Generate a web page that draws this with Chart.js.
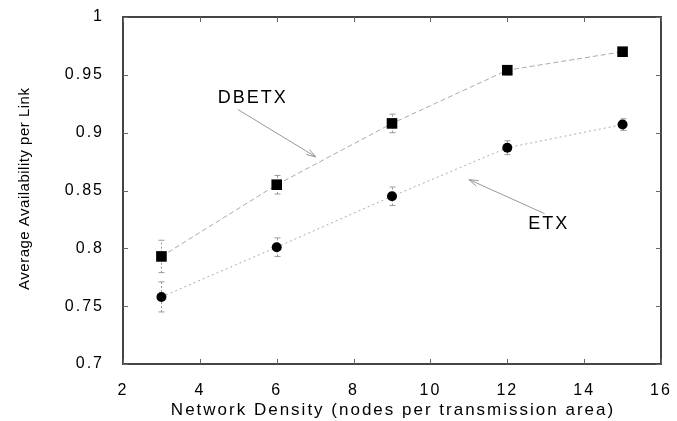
<!DOCTYPE html>
<html>
<head>
<meta charset="utf-8">
<script src="https://cdn.jsdelivr.net/npm/chart.js@4.4.1/dist/chart.umd.min.js"></script>
<style>
  html, body { margin: 0; padding: 0; background: #fff; }
  #wrap { width: 677px; height: 421px; }
</style>
</head>
<body>
<div id="wrap"><canvas id="c" width="677" height="421"></canvas></div>
<script>
// ---- data ----
const densities = [3, 6, 9, 12, 15];
const dbetxValues = [0.793, 0.855, 0.908, 0.954, 0.970];
const dbetxErrors = [0.014, 0.008, 0.008, 0.004, 0.003];
const etxValues = [0.758, 0.801, 0.845, 0.887, 0.907];
const etxErrors = [0.013, 0.008, 0.008, 0.006, 0.005];
const xTickLabels = ['2', '4', '6', '8', '10', '12', '14', '16'];
const yTickLabels = ['0.7', '0.75', '0.8', '0.85', '0.9', '0.95', '1'];
const xTitle = 'Network Density (nodes per transmission area)';
const yTitle = 'Average Availability per Link';
// annotations: label, text position (x,y), arrow from (x,y) to (x,y) in data units
const annLabels = ['DBETX', 'ETX'];
const annText = [[5.35, 0.930], [13.05, 0.8207]];
const annArrowFrom = [[4.99, 0.920], [12.97, 0.830]];
const annArrowTo = [[7.02, 0.879], [11.0, 0.8595]];

const FONT = "'Liberation Sans', Arial, Helvetica, sans-serif";
const AXIS = '#444';

function spacedText(ctx, text, x, y, spacing, align) {
  ctx.save();
  ctx.letterSpacing = spacing + 'px';
  const w = ctx.measureText(text).width - spacing;
  let sx = x;
  if (align === 'center') sx = x - w / 2;
  else if (align === 'right') sx = x - w;
  ctx.textAlign = 'left';
  ctx.fillText(text, sx, y);
  ctx.restore();
}

const frameAndExtras = {
  id: 'frameAndExtras',
  beforeDraw(chart) {
    chart.ctx.letterSpacing = '2px';
  },
  beforeDatasetsDraw(chart) {
    const ctx = chart.ctx;
    const xs = chart.scales.x, ys = chart.scales.y;
    ctx.save();
    ctx.strokeStyle = '#999';
    ctx.lineWidth = 1;
    [[dbetxValues, dbetxErrors], [etxValues, etxErrors]].forEach(([vals, errs]) => {
      vals.forEach((v, i) => {
        const px = Math.round(xs.getPixelForValue(densities[i])) + 0.5;
        const y1 = ys.getPixelForValue(v - errs[i]);
        const y2 = ys.getPixelForValue(v + errs[i]);
        ctx.setLineDash([2, 2]);
        ctx.beginPath(); ctx.moveTo(px, y1); ctx.lineTo(px, y2); ctx.stroke();
        ctx.setLineDash([]);
        ctx.beginPath();
        ctx.moveTo(px - 3, y1); ctx.lineTo(px + 3, y1);
        ctx.moveTo(px - 3, y2); ctx.lineTo(px + 3, y2);
        ctx.stroke();
      });
    });
    ctx.restore();
  },
  afterDraw(chart) {
    const ctx = chart.ctx, a = chart.chartArea;
    const xs = chart.scales.x, ys = chart.scales.y;
    ctx.save();
    ctx.letterSpacing = '0px';
    // frame
    ctx.strokeStyle = AXIS;
    ctx.lineWidth = 2;
    ctx.strokeRect(a.left, a.top, a.right - a.left, a.bottom - a.top);
    // inward ticks
    ctx.lineWidth = 1;
    ctx.strokeStyle = '#666';
    xs.ticks.forEach(t => {
      const px = Math.round(xs.getPixelForValue(t.value)) + 0.5;
      ctx.beginPath();
      ctx.moveTo(px, a.bottom); ctx.lineTo(px, a.bottom - 5);
      ctx.moveTo(px, a.top); ctx.lineTo(px, a.top + 5);
      ctx.stroke();
    });
    ys.ticks.forEach(t => {
      const py = Math.round(ys.getPixelForValue(t.value)) + 0.5;
      ctx.beginPath();
      ctx.moveTo(a.left, py); ctx.lineTo(a.left + 5, py);
      ctx.moveTo(a.right, py); ctx.lineTo(a.right - 5, py);
      ctx.stroke();
    });
    // axis titles
    ctx.fillStyle = '#000';
    ctx.textBaseline = 'middle';
    ctx.font = '17px ' + FONT;
    spacedText(ctx, xTitle, (a.left + a.right) / 2, 410, 2, 'center');
    ctx.save();
    ctx.translate(25, 189);
    ctx.rotate(-Math.PI / 2);
    ctx.font = '15px ' + FONT;
    spacedText(ctx, yTitle, 0, 0, 0.5, 'center');
    ctx.restore();
    // annotations
    ctx.font = '18px ' + FONT;
    annLabels.forEach((lab, i) => {
      spacedText(ctx, lab, xs.getPixelForValue(annText[i][0]), ys.getPixelForValue(annText[i][1]), 2, 'center');
      const x1 = xs.getPixelForValue(annArrowFrom[i][0]), y1 = ys.getPixelForValue(annArrowFrom[i][1]);
      const x2 = xs.getPixelForValue(annArrowTo[i][0]), y2 = ys.getPixelForValue(annArrowTo[i][1]);
      ctx.strokeStyle = '#999';
      ctx.lineWidth = 1;
      ctx.beginPath(); ctx.moveTo(x1, y1); ctx.lineTo(x2, y2); ctx.stroke();
      const ang = Math.atan2(y2 - y1, x2 - x1);
      const L = 10, w = 0.3;
      ctx.beginPath();
      ctx.moveTo(x2 - L * Math.cos(ang - w), y2 - L * Math.sin(ang - w));
      ctx.lineTo(x2, y2);
      ctx.lineTo(x2 - L * Math.cos(ang + w), y2 - L * Math.sin(ang + w));
      ctx.stroke();
    });
    ctx.restore();
  }
};

new Chart(document.getElementById('c'), {
  type: 'line',
  data: {
    datasets: [
      {
        label: 'DBETX',
        data: densities.map((x, i) => ({ x, y: dbetxValues[i] })),
        borderColor: '#aaa',
        borderWidth: 1,
        borderDash: [5, 3],
        pointStyle: 'rect',
        pointRadius: 7.5,
        pointBackgroundColor: '#000',
        pointBorderColor: '#000',
        pointBorderWidth: 0,
        tension: 0
      },
      {
        label: 'ETX',
        data: densities.map((x, i) => ({ x, y: etxValues[i] })),
        borderColor: '#aaa',
        borderWidth: 1,
        borderDash: [2, 3],
        pointStyle: 'circle',
        pointRadius: 5,
        pointBackgroundColor: '#000',
        pointBorderColor: '#000',
        pointBorderWidth: 0,
        tension: 0
      }
    ]
  },
  options: {
    responsive: false,
    animation: false,
    devicePixelRatio: 1,
    layout: { padding: { top: 17, right: 16, left: 0, bottom: 0 } },
    plugins: { legend: { display: false }, tooltip: { enabled: false } },
    scales: {
      x: {
        type: 'linear',
        min: 2, max: 16,
        afterFit: (s) => { s.height = 57; s.paddingLeft = 0; s.paddingRight = 0; },
        ticks: {
          stepSize: 2,
          color: '#000',
          font: { family: FONT, size: 16 },
          padding: 9,
          maxRotation: 0,
          callback: (v) => xTickLabels[Math.round((v - 2) / 2)]
        },
        grid: { display: false },
        border: { display: false }
      },
      y: {
        type: 'linear',
        min: 0.7, max: 1,
        afterFit: (s) => { s.width = 123; s.paddingTop = 0; s.paddingBottom = 0; },
        ticks: {
          stepSize: 0.05,
          color: '#000',
          font: { family: FONT, size: 16 },
          padding: 11,
          callback: (v) => yTickLabels[Math.round((v - 0.7) / 0.05)]
        },
        grid: { display: false },
        border: { display: false }
      }
    }
  },
  plugins: [frameAndExtras]
});
</script>
</body>
</html>
